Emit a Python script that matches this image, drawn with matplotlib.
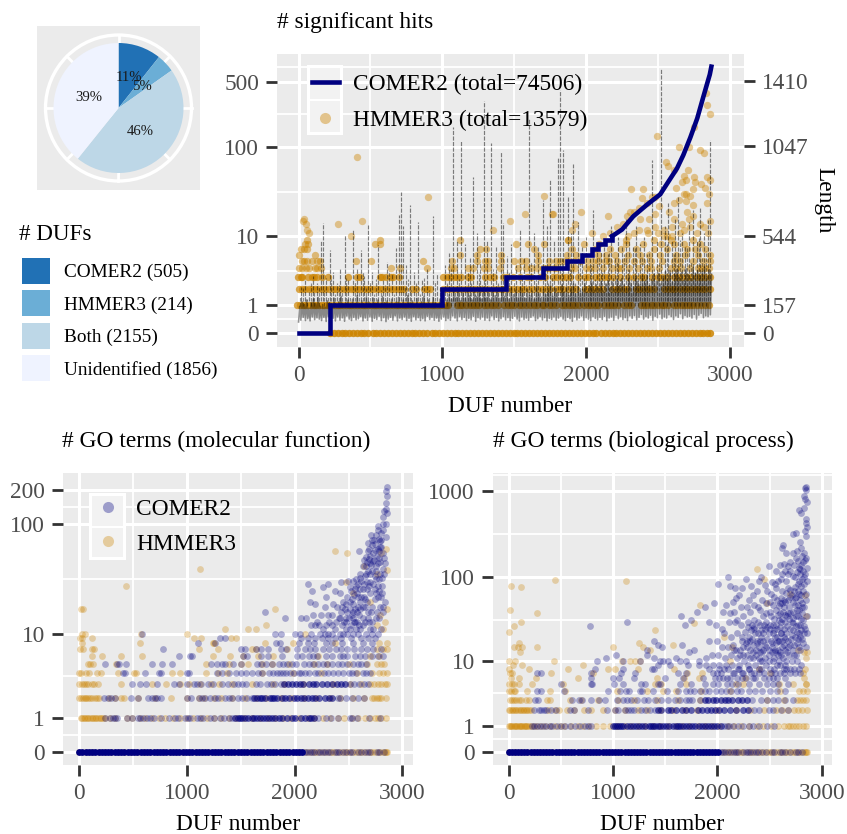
import numpy as np
import matplotlib
matplotlib.use('Agg')
import matplotlib.pyplot as plt
from matplotlib.lines import Line2D
from matplotlib.patches import Circle, Patch, Rectangle
from matplotlib.ticker import NullFormatter

plt.rcParams['font.family'] = ['Liberation Serif', 'DejaVu Serif']
plt.rcParams['path.simplify'] = False

W, H = 847, 834

# pie
duf_labels = ['COMER2 (505)', 'HMMER3 (214)', 'Both (2155)', 'Unidentified (1856)']
duf_counts = [505, 214, 2155, 1856]
duf_colors = ['#2171b5', '#6baed6', '#bdd7e7', '#eff3ff']

# significant hits, COMER2 curve (sorted): integer steps, then the smooth part
comer_step_x = [0, 216, 1000, 1443, 1700, 1867, 1970, 2040, 2085, 2130, 2180]
comer_step_y = [0, 1, 2, 3, 4, 5, 6, 7, 8, 9, 10]
comer_curve_x = [2180, 2250, 2328, 2423, 2515, 2570, 2632, 2676, 2725, 2773, 2815, 2840, 2860, 2871]
comer_curve_y = [10, 12, 17, 23, 30, 41, 58, 81, 126, 203, 345, 470, 600, 730]

# length of every 8th DUF (the solid band)
lengths = [62,150,72,175,88,160,70,185,80,140, 68,170,90,190,75,165,85,200,78,150,
           70,160,88,145,65,180,92,170,74,155, 82,195,68,150,90,175,72,205,85,160,
           66,170,95,185,78,150,70,190,88,165, 74,210,80,155,92,180,68,160,84,200,
           72,175,90,150,66,195,82,165,76,185, 94,155,70,205,86,170,64,180,78,160,
           88,190,72,150,96,175,68,200,84,165, 76,185,90,155,70,210,82,170,66,180,
           92,160,74,195,86,150,70,175,80,205, 68,165,94,185,76,155,88,200,72,170,
           84,150,66,190,78,175,90,160,70,185, 80,215,72,190,96,235,84,200,68,245,
           92,180,76,225,88,195,70,250,82,210, 74,185,94,240,66,205,86,230,78,190,
           90,255,72,200,84,225,70,185,96,245, 76,210,88,235,68,195,80,260,92,205,
           74,230,86,190,70,250,82,215,94,240, 78,200,68,255,90,225,76,195,84,245,
           72,210,88,235,96,190,70,260,80,220, 92,200,74,245,86,215,68,235,82,265,
           76,205,90,250,72,225,84,195,94,270, 78,230,70,255,88,210,80,240,66,275,
           90,220,74,260,84,235,96,245,72,280, 86,230,78,265,70,285,92,240,82,270,
           74,250,88,290,76,235,94,275,68,295, 84,255,90,285,72,245,100,300,80,265,
           92,305,76,270,86,250,70,310,96,280, 82,260,98,315,74,290,88,270,104,320,
           78,285,92,325,84,265,100,300,72,330, 94,290,86,335,106,275,80,320,90,345,
           84,300,102,350,92,285,76,330,96,355, 88,310,108,340,80,295,98,360,90,325,
           94,305,84,365,104,335,78,350,100,320, 110,345,86,370,96,315,92,355,102,330]

# isolated long DUFs poking out of the band
spike_x = [18,46,72,98,125,153,169,190,216,240,265,290,320,345,376,405,432,458,480,512,550,585,613,650,676,
           697,711,725,745,773,800,829,860,895,934,965,1020,1045,1075,1100,1129,1160,1190,1213,
           1240,1265,1289,1310,1336,1370,1408,1421,1450,1480,1510,1540,1570,1603,1640,1665,1700,1725,1749,
           1775,1805,1819,1840,1875,1895,1909,1940,1970,2000,2025,2049,2075,2100,2125,2150,2175,2200,2225,
           2250,2275,2300,2325,2350,2375,2400,2425,2460,2490,2523,2550,2571,2595,2620,2641,2665,2690,2715,
           2745,2770,2794,2820,2850,2860]
spike_len = [260,300,230,320,280,520,616,310,465,340,280,360,549,300,577,360,465,320,605,340,493,300,398,330,476,
             660,790,600,380,717,340,622,300,360,655,330,380,450,1154,520,1075,500,420,874,560,400,
             1299,520,1064,480,1014,616,430,500,380,577,420,1204,560,480,745,600,857,520,986,1361,1025,762,560,
             946,620,480,540,420,689,500,460,520,440,600,420,540,480,640,520,480,600,500,540,440,969,520,1484,
             600,728,520,640,762,560,480,620,689,520,700,560,633,1081]
fuzz_x = [8,32,58,85,110,140,180,205,228,252,278,305,332,360,390,418,445,470,495,525,540,570,600,630,665,740,760,
          785,815,845,875,910,950,985,1005,1035,1060,1090,1115,1145,1175,1200,1228,1252,1275,1300,1325,1350,1385,
          1435,1465,1495,1525,1555,1585,1620,1650,1682,1712,1738,1762,1790,1830,1860,1885,1925,1955,1985,2012,
          2035,2062,2088,2112,2138,2162,2188,2212,2238,2262,2288,2312,2338,2362,2388,2412,2440,2475,2505,2535,
          2560,2582,2608,2630,2652,2678,2702,2730,2758,2782,2808,2835]
fuzz_len = [210,250,190,280,230,260,240,200,300,220,270,240,310,210,290,230,340,250,290,220,300,240,270,350,220,
            260,300,240,280,220,310,240,290,260,230,280,360,260,300,240,340,280,220,330,270,300,240,360,280,
            260,340,290,240,320,270,400,300,260,380,280,320,260,420,300,360,280,400,320,270,
            380,300,420,340,280,460,320,400,300,440,360,300,480,340,420,300,460,360,400,320,
            500,340,440,380,520,360,480,400,340,540,420,460]

# significant hits, HMMER3 rows (x of each DUF at a given hit count)
hits_row0 = [220,248,272,300,322,350,378,404,432,458,486,515,540,568,596,622,650,678,704,732,760,788,
             812,840,868,895,925,948,975,1002,1030,1058,1085,1112,1138,1166,1194,1222,1248,1276,1304,
             1332,1358,1385,1412,1440,1468,1495,1522,1550,1578,1604,1632,1660,1688,1715,1742,1770,
             1798,1826,1852,1880,1908,1935,1962,1990,2018,2046,2072,2100,2128,2156,2184,2210,2238,
             2266,2294,2320,2348,2376,2404,2432,2458,2486,2514,2542,2568,2596,2624,2652,2680,2706,
             2734,2762,2790,2816,2844,2862]
hits_row1 = [-8,12,30,48,66,85,104,122,140,160,178,196,215,235,254,272,290,310,330,348,368,388,405,425,
             445,465,482,502,522,540,560,580,600,618,636,655,675,695,712,732,750,770,790,808,828,848,
             868,885,905,925,945,965,985,1005,1025,1040,1100,1120,1140,1165,1190,1210,1235,1255,1290,
             1310,1335,1360,1385,1430,1455,1480,1500,1530,1555,1585,1610,1640,1660,1690,1710,1740,
             1765,1790,1835,1855,1880,1900,1925,1950,1985,2010,2035,2060,2085,2125,2150,2175,2195,
             2225,2260,2290,2310,2380,2400,2425,2450,2475,2500,2525,2545,2570,2610,2635,2660,2680,
             2700,2725,2745,2770,2800,2830,2855]
hits_row2 = [0,22,45,70,90,115,135,160,185,215,240,262,285,318,340,362,385,408,430,452,475,495,518,545,
             565,590,615,640,665,690,712,735,790,815,870,892,915,1005,1030,1060,1085,1110,1135,1165,
             1185,1210,1235,1265,1290,1315,1355,1380,1405,1430,1465,1490,1520,1545,1570,1605,1630,
             1665,1695,1720,1750,1790,1815,1840,1875,1900,1930,1990,2015,2040,2065,2090,2120,2180,
             2205,2230,2260,2285,2345,2370,2395,2420,2445,2475,2545,2570,2595,2620,2650,2680,2705,
             2730,2755,2780,2805,2830,2860]
hits_row3 = [-2,15,25,65,90,105,125,165,205,345,405,430,565,580,610,640,655,700,1005,1030,1050,1080,1100,
             1130,1175,1200,1300,1330,1360,1420,1450,1490,1540,1590,1620,1680,1715,1770,1800,1830,1860,
             1890,1945,1990,2010,2060,2090,2125,2150,2185,2235,2290,2330,2380,2405,2460,2500,2530,2565,
             2610,2640,2670,2700,2730,2770,2800,2830,2860]
hits_row4 = [5,25,50,75,115,130,155,640,704,890,1060,1080,1175,1215,1290,1320,1400,1525,1580,1615,1660,
             1700,1725,1745,1775,1800,1895,1925,2000,2030,2065,2120,2180,2220,2245,2300,2360,2420,2450,
             2510,2590,2625,2660,2720,2780,2800,2830,2855]
hits_row5 = [25,40,60,95,125,150,397,502,862,1064,1240,1300,1320,1408,1500,1545,1585,1665,1745,1790,
             1820,1850,1880,1915,1960,2005,2050,2085,2130,2160,2215,2270,2330,2390,2450,2530,2610,2650,
             2740,2810,2860]
hits_row6 = [0,113,1122,1240,1408,1666,1870,1930,2080,2135,2200,2290,2375,2440,2515,2625,2690,2780,2860]
hits_row7 = [15,40,60,1261,1303,1636,1905,2060,2165,2240,2350,2470,2560,2700,2760,2830]
hits_row8 = [45,65,534,569,1510,1597,1708,1985,2090,2280,2395,2520,2610,2680,2790]
hits_row9 = [60,565,1122,1877,2280,2470,2590,2740]

# significant hits, HMMER3 points above the rows
hits_hmmer_high = [(407,78),(901,28),(30,15),(40,16),(50,14),(60,12),(75,11),(276,14),(439,15),(367,10),
                   (1354,12),(1471,15),(1578,18),(1708,29),(1766,18),(2492,131),(2643,99),(2713,99),(2817,85),
                   (2794,92),(2860,225),(2840,282),(2835,380),(2752,163),(2558,68),(2569,62),(2706,56),
                   (2608,55),(2678,48),(2666,41),(2697,43),(2752,47),(2759,41),(2798,39),(2829,35),(2840,47),
                   (2860,43),(2311,34),(2395,34),(2627,35),(2678,30),(2695,30),(2743,34),(2725,29),(1773,18),
                   (1965,19),(2151,17),(2306,19),(2283,17),(2330,19),(2423,24),(2458,28),(2481,28),(2388,27),
                   (2481,18),(2434,16),(2376,16),(2643,26),(2608,24),(2573,19),(2510,22),(2695,25),(2743,23),
                   (2840,24),(2855,30),(2699,19),(2745,17),(2713,16),(2666,14),(2608,16),(2597,13),(2678,12),
                   (2794,14),(2817,13),(2860,15),(2562,10),(2539,10),(2481,13),(2427,11),(2365,12),(2330,11),
                   (2289,10),(2213,13),(2167,11),(2120,10),(2040,11),(1923,14),(1900,12),(1877,9),(2420,12),
                   (2540,12),(2655,11),(2720,13),(2770,11),(2845,11),(2500,11),(2600,10),(2255,14),(2370,21)]

# GO molecular function
mf_hmmer_row0 = [0,60,120,180,240,300,360,420,480,540,600,660,720,780,840,900,960,1020,1080,1140,1200,1260,
                 1320,1380,1440,1500,1560,1620,1680,1740,1800,1860,1920,1980,2040,2100,2125,2150,2175,2200,
                 2225,2250,2280,2310,2335,2360,2385,2410,2440,2465,2490,2515,2545,2570,2595,2620,2645,2670,
                 2695,2720,2745,2770,2795,2820,2835,2850,2860]
mf_comer_row0_solid = [0,30,60,90,120,150,180,210,240,270,300,330,360,390,420,450,480,510,540,570,600,630,660,
                       690,720,750,780,810,840,870,900,930,960,990,1020,1050,1080,1110,1140,1170,1200,1230,
                       1260,1290,1320,1350,1380,1410,1440,1470,1500,1530,1560,1590,1620,1650,1680,1710,1740,
                       1770,1800,1830,1860,1890,1920,1950,1980,2010,2040,2070]
mf_comer_row0 = [2095,2115,2140,2160,2180,2215,2235,2260,2285,2310,2330,2370,2390,2415,2450,2475,2510,2530,2590,
                 2615,2650,2680,2700,2760,2785,2830]
mf_hmmer_row1 = [15,30,45,55,70,85,100,115,130,145,160,175,190,205,220,240,285,330,445,490,560,615,680,740,800,
                 870,940,1005,1060,1130,1190,1250,1320,1390,1455,1530,1600,1680,1755,1820,1890,1960,2040,
                 2120,2180,2260,2330,2400,2460,2530,2590,2650,2700,2745,2770,2800,2845]
mf_comer_row1 = [240,285,310,330,350,445,490,545,565,590,625,660,690,760,830,890,915,985,1010,1030,1090,1120,
                 1150,1210,1250,1305,1345,1390,1420,2215,2290,2340,2400,2510,2530,2580,2690,2790]
mf_comer_row1_dense = [1445,1470,1490,1515,1540,1570,1600,1625,1650,1680,1710,1735,1760,1790,1815,1850,1885,1930,
                       1975,2000,2060,2100,2130,2150,2175]
mf_hmmer_row2 = [0,20,35,50,65,80,100,120,145,165,185,280,330,390,420,550,700,855,1005,1110,1160,1255,1320,1420,
                 1540,1640,1730,1870,1970,2090,2200,2330,2420,2540,2640,2720,2740,2760,2780,2800,2850]
mf_comer_row2 = [230,265,300,330,480,545,640,680,705,725,760,1000,1040,1110,1140,1170,1210,1260,1290,1350,1395,
                 1420,1470,1510,1560,1600,2400,2420,2480,2530,2590,2640]
mf_comer_row2_dense = [1620,1650,1680,1700,1725,1770,1790,1810,1840,1880,1910,1950,1990,2020,2060,2090,2120,2160,
                       2190,2230,2280,2320,2350]
mf_hmmer_row3 = [-5,25,45,65,85,115,140,175,390,680,805,935,1020,1125,1220,1300,1420,1600,1800,1905,2080,2360,
                 2510,2620,2700,2735,2770,2800,2835,2860]
mf_comer_row3 = [620,490,560,720,880,930,1005,1065,1090,1130,1200,1240,1330,1380,1440,1475,1510,1550,1640,1675,
                 1740,1780,1820,1870,2510,2550,2600,2640,2680]
mf_comer_row3_dense = [1905,1940,1975,2010,2045,2080,2130,2170,2200,2250,2300,2350,2390,2430,2470]
mf_hmmer_row4 = [0,15,65,90,165,205,360,510,530,860,935,1180,1290,1370,1700,1980,2240,2580,2720,2780,2820,2855]
mf_comer_row4 = [410,425,610,740,760,1000,1020,1275,1330,1390,1460,1505,1550,1600,1660,1700,1760,1800,1840,1865,
                 1890,1920,1960,1990,2040,2060,2100,2130,2190,2220,2270,2310,2360,2400,2450,2500,2530,2570,2630,
                 2660,2700]
mf_hmmer_row5 = [85,105,125,340,1175,1390,1500,1565,1700,1790,1950,2180,2300,2500,2670,2760,2800,2830]
mf_comer_row5 = [240,350,370,430,680,770,860,1220,1280,1330,1350,1430,1500,1650,1690,1730,1790,1850,1890,1925,
                 1975,2010,2090,2130,2170,2220,2260,2300,2350,2400,2440,2490,2540,2590,2620,2660]
mf_hmmer_row6 = [120,210,390,580,1240,1400,1520,1660,1800,2220,2700,2780]
mf_comer_row6 = [930,1030,1050,1520,1560,1690,1750,1880,2020,2070,2130,2170,2210,2290,2350,2420,2450,2490,2560,
                 2610,2650,2720,2775,2820]
mf_hmmer_row7 = [5,35,120,140,1110,1285,1600,1640,1930,2760,2820,2860]
mf_comer_row7 = [780,1500,1540,1640,1690,1750,1870,1920,2020,2100,2140,2190,2260,2320,2380,2430,2490,2550,2620,
                 2670,2730,2800]
mf_hmmer_row8 = [25,560,1255,1240,1720,1985,2370,2780,2860]
mf_comer_row8 = [1099,1265,1830,1860,2040,2120,2180,2290,2350,2440,2540,2630,2720]
mf_hmmer_high = [(20,17),(40,17),(430,28),(1120,40),(30,10),(55,10),(10,9),(30,9),(115,9),(575,10),(1000,10),(1070,9),
                 (1130,9),(1350,11),(1410,9),(1460,9),(1570,11),(1640,11),(1730,12),(1820,17),(2370,57),(2490,55),
                 (2640,42),(2800,55),(2850,60),(2540,24),(2100,10),(2860,17),(2840,13),(2820,11),(2790,15),(2760,12),
                 (2700,20),(2860,39),(2760,36),(2480,30)]
mf_comer_high = [(2860,213),(2849,197),(2858,175),(2849,152),(2849,135),(2833,129),(2860,124),(2818,116),(2818,100),
                 (2772,95),(2756,80),(2710,80),(2802,83),(2849,77),(2596,58),(2679,57),(2741,59),(2787,57),(2833,50),
                 (2787,50),(2694,49),(2710,43),(2756,42),(2818,40),(2664,36),(2741,34),(2787,32),(2602,36),(2540,31),
                 (2494,31),(2432,30),(2309,29),(2262,27),(2370,25),(2417,24),(2525,25),(2633,26),(2694,28),(2741,26),
                 (2586,22),(2478,19),(2540,19),(2633,18),(2741,21),(2818,18),(2355,19),(2278,18),(2185,19),(2139,20),
                 (2062,14),(1907,14),(1722,16),(2432,16),(2540,16),(2633,14),(2710,16),(2787,14),(2478,14),(2386,13),
                 (2309,15),(2247,15),(2170,15),(2108,14),(2509,11),(2478,11),(2633,12),(2725,11),(2370,11),(2309,10),
                 (2231,10),(2046,10),(2000,10),(1877,10),(1815,10),(2586,10),(2448,10),(2540,10),(2060,9),(2120,9),
                 (2185,9),(2255,9),(2310,9),(2370,9),(2430,9),(2525,9),(2620,9),(2680,9),(2745,9),(1305,9),(1352,9),
                 (580,10),(2460,13),(2575,13),(2690,13),(2755,14),(2800,22),(2790,70),(2720,65),(2680,68),(2730,47),
                 (2770,45),(2750,38),(2640,48),(2660,42),(2700,36),(2620,31),(2590,29),(2560,26),(2650,21),(2700,24),
                 (2770,28),(2810,28),(2770,22),(2720,18),(2680,16),(2600,15),(2560,13),(2510,17),(2450,20),(2390,18),
                 (2350,15),(2290,22),(2210,13),(2150,12),(2530,21),(2605,20),(2830,36),(2800,62),(2850,100),(2820,88),
                 (2780,74),(2740,48),(2690,60),(2660,51),(2630,42),(2675,30),(2570,32),(2490,22),(2420,14),(2120,29),
                 (2160,25)]
mf_comer_cloud = [(2520,12),(2550,13),(2500,14),(2580,16),(2610,17),(2650,18),(2670,20),(2620,22),(2560,17),(2530,15),
                  (2480,13),(2440,12),(2410,14),(2350,12),(2320,13),(2290,12),(2260,11),(2225,12),(2190,12),(2150,10),
                  (2570,11),(2600,12),(2650,13),(2680,14),(2720,13),(2760,16),(2790,18),(2820,16),(2840,20),(2810,24),
                  (2780,25),(2750,24),(2730,29),(2700,30),(2670,26),(2640,29),(2610,26),(2580,24),(2550,23),(2510,20),
                  (2470,17),(2440,18),(2510,27),(2570,28),(2610,33),(2650,34),(2680,38),(2720,38),(2750,32),(2790,36),
                  (2810,33),(2840,45),(2820,55),(2790,46),(2760,52),(2725,55),(2695,52),(2670,46),(2720,72),(2745,66),
                  (2770,60),(2790,62),(2800,72),(2770,88),(2740,72),(2700,45),(2640,22),(2590,18),(2540,14),(2490,16),
                  (2610,11),(2660,10),(2700,11),(2770,10),(2800,11),(2720,10),(2490,10),(2420,10),(2350,10),(2280,10)]

# GO biological process
bp_hmmer_row0 = [0,60,120,180,240,300,360,420,480,540,600,660,720,780,840,900,960,1020,1080,1140,1200,1260,1320,
                 1380,1440,1500,1560,1620,1680,1740,1800,1860,1920,1980,2040,2070,2100,2125,2150,2175,2200,2225,
                 2250,2280,2310,2335,2360,2385,2410,2440,2465,2490,2515,2545,2570,2595,2620,2645,2670,2695,2720,
                 2745,2770,2795,2820,2835,2850,2860]
bp_comer_row0_solid = [0,30,60,90,120,150,180,210,240,270,300,330,360,390,420,450,480,510,540,570,600,630,660,690,
                       720,750,780,810,840,870,900,930,960,990,1020,1050,1080,1110,1140,1170,1200,1230,1260,1290,
                       1320,1350,1380,1410,1440,1470,1500,1530,1560,1590,1620,1650,1680,1710,1740,1770,1800,1830,
                       1860,1890,1920,1950,1980,2010]
bp_comer_row0 = [2030,2050,2075,2100,2130,2160,2175,2200,2250,2270,2290,2310,2340,2370,2390,2430,2470,2520,2540,
                 2600,2620,2650,2700,2750,2770,2810]
bp_hmmer_row1 = [0,12,24,36,48,60,72,84,96,108,120,132,144,156,168,180,195,215,240,270,310,350,400,440,490,530,600,
                 660,710,770,840,900,970,1040,1110,1170,1240,1310,1380,1450,1530,1600,1660,1730,1810,1880,1950,2020,
                 2100,2160,2230,2300,2380,2440,2510,2580,2640,2680,2700,2720,2750,2780,2820,2850]
bp_comer_row1 = [220,240,270,300,330,360,395,420,460,505,540,590,635,680,730,760,785,2060,2090,2110,2150,2200,
                 2250,2300,2340,2400,2480,2540]
bp_comer_row1_dense = [1000,1020,1040,1060,1080,1100,1130,1160,1190,1220,1250,1280,1310,1340,1360,1380,1400,1430,
                       1450,1480,1510,1540,1570,1600,1620,1640,1670,1700,1730,1760,1790,1820,1850,1880,1910,1940,
                       1970,2000,2030]
bp_hmmer_row2 = [0,15,30,45,60,75,90,105,120,135,150,165,180,195,210,380,440,480,560,630,720,790,900,1020,1110,
                 1240,1330,1450,1570,1690,1800,2000,2180,2310,2450,2560,2620,2680,2730,2770,2815,2855]
bp_comer_row2 = [240,295,310,340,355,405,450,585,630,760,940,1020,1050,1110,1140,1170,1200,1265,1310,1350,1400,
                 2350,2400,2490,2530,2610,2680]
bp_comer_row2_dense = [1435,1460,1530,1560,1600,1665,1700,1750,1810,1850,1900,1940,1980,2020,2060,2120,2180,2250,2290]
bp_hmmer_row3 = [15,35,55,75,95,115,165,195,370,400,590,690,860,1050,1200,1420,1620,1830,2480,2640,2760,2790,2820,
                 2850]
bp_comer_row3 = [250,280,610,670,700,790,870,920,1040,1100,1130,1170,1225,1300,1335,1400,1460,1530,1590,1640,1695,
                 1730,1760,1830,2330,2420,2480,2530,2580,2650,2720]
bp_comer_row3_dense = [1880,1910,1960,1990,2030,2070,2100,2140,2200,2240,2280]
bp_hmmer_row4 = [5,25,50,65,175,400,540,1040,1330,1480,1600,1840,2120,2600,2780,2820,2860]
bp_comer_row4 = [270,310,530,950,1070,1120,1155,1260,1280,1380,1520,1620,1700,1740,1780,1830,1880,1920,1990,2030,
                 2080,2130,2190,2230,2300,2360,2430,2500,2570,2650]
bp_hmmer_row5 = [5,30,50,100,225,520,1400,1460,1700,2180,2250,2590,2720,2850]
bp_comer_row5 = [500,790,800,1010,1100,1270,1310,1430,1450,1640,1750,1880,1960,2010,2090,2140,2200,2300,2400,2480,
                 2530,2580,2680]
bp_hmmer_row6 = [20,100,260,660,1420,1680,1820,2260,2830]
bp_comer_row6 = [790,1000,1060,1200,1500,1670,1860,1980,2020,2090,2190,2270,2360,2450,2530,2650]
bp_hmmer_row7 = [10,30,410,810,1710,1850,2500,2820]
bp_comer_row7 = [275,310,790,1080,1210,1620,1700,1960,2030,2160,2240,2320,2400,2510,2600,2700,2790]
bp_hmmer_row8 = [0,195,570,955,1020,1240,1580,2400,2840]
bp_comer_row8 = [830,1100,1370,1390,1920,2020,2060,2210,2300,2420,2540,2640,2730]
bp_hmmer_high = [(25,80),(115,77),(440,93),(1120,92),(10,42),(270,38),(115,30),(55,27),(0,23),(55,15),(100,17),
                 (90,15),(130,15),(270,15),(1000,15),(110,13),(0,10),(60,10),(45,9),(130,9),(430,10),(715,9),(1090,10),
                 (1160,10),(1210,10),(1260,10),(1400,24),(1250,17),(1290,15),(1350,14),(1570,16),(1830,48),(1780,29),
                 (2450,95),(2380,125),(2700,65),(2840,62),(2850,35),(2830,13),(2860,13),(2850,11),(2770,14),(2480,50),
                 (2140,15),(2060,20),(2120,10),(2850,5)]
bp_comer_high = [(2850,1090),(2840,1080),(2845,1020),(2825,880),(2835,800),(2855,750),(2830,640),(2780,600),(2800,560),
                 (2850,470),(2850,420),(2860,380),(2840,340),(2725,320),(2750,330),(2850,300),(2790,260),(2625,240),
                 (2620,220),(2660,190),(2720,190),(2760,200),(2800,220),(2830,190),(2850,170),(2700,150),(2730,140),
                 (2780,130),(2840,160),(2860,130),(2820,120),(2600,140),(2640,145),(2680,135),(2490,135),(2560,120),
                 (2620,110),(2700,120),(2740,100),(2780,90),(2810,95),(2840,110),(2860,90),(2550,85),(2610,95),(2660,90),
                 (2420,100),(2270,95),(2100,100),(2010,85),(2120,80),(2170,75),(2240,75),(2320,80),(2380,70),(2480,70),
                 (2510,65),(2560,75),(2620,70),(2680,75),(2730,70),(2780,65),(2820,70),(2850,65),(2750,60),(2700,60),
                 (2640,55),(2600,50),(2540,60),(2470,50),(2430,55),(2390,45),(2300,55),(2180,58),(1970,50),(2050,40),
                 (2160,40),(2230,45),(2310,40),(2350,32),(2440,35),(2500,40),(2560,42),(2630,40),(2690,45),(2740,48),
                 (2790,55),(2830,45),(2860,35),(1750,32),(1130,30),(780,27),(1800,40),(1880,45),(1650,35),(1690,28),
                 (1920,30),(1990,28),(2040,25),(2110,30),(2170,30),(2230,28),(2290,30),(2350,25),(2410,28),(2470,30),
                 (2530,28),(2590,32),(2650,30),(2710,30),(2770,35),(2820,32),(2840,25),(2860,22),(2780,22),(2720,24),
                 (2660,22),(2610,22),(2550,20),(2490,22),(2420,20),(2360,22),(2300,20),(2240,18),(2190,22),(2130,20),
                 (2060,22),(2000,18),(1920,18),(1780,14),(1730,13),(1660,16),(1330,14),(1390,18),(1430,16),(1470,15),
                 (2040,15),(2100,15),(2160,14),(2220,14),(2280,15),(2340,16),(2400,15),(2460,16),(2520,15),(2580,14),
                 (2640,16),(2700,16),(2760,17),(2810,19),(2850,15),(2790,14),(2730,12),(2670,13),(2610,12),(2550,13),
                 (2490,12),(2430,13),(2370,12),(2310,11),(2250,12),(2190,11),(2130,12),(2070,11),(2010,12),(1950,12),
                 (1890,11),(1820,10),(1700,10),(1640,10),(1600,11),(1530,10),(1450,10),(1480,10),(1390,11),(1330,12),
                 (1260,10),(1100,10),(930,11),(1030,12),(2290,9),(2360,9),(2410,10),(2470,9),(2530,10),(2590,10),(2650,9),
                 (2710,10),(2760,10),(2800,9),(2210,9),(2140,9),(2080,9),(2020,9),(1960,9),(1890,9),(1820,9),(1720,9),(1550,9),
                 (1430,9),(850,10)]
bp_comer_cloud = [(2540,11),(2570,9),(2600,13),(2630,11),(2660,10),(2690,12),(2720,14),(2750,12),(2780,15),(2820,17),
                  (2520,13),(2490,10),(2460,11),(2430,10),(2400,11),(2370,14),(2340,13),(2310,14),(2280,12),(2250,15),
                  (2220,12),(2180,14),(2150,16),(2560,17),(2590,18),(2620,15),(2650,19),(2680,18),(2710,21),(2740,20),
                  (2770,19),(2800,24),(2830,22),(2510,18),(2480,19),(2440,18),(2410,18),(2380,18),(2330,19),(2270,17),
                  (2530,22),(2570,25),(2600,26),(2640,25),(2670,27),(2700,25),(2750,27),(2790,28),(2810,38),(2760,42),
                  (2720,40),(2680,38),(2650,36),(2620,33),(2580,36),(2540,33),(2510,35),(2460,25),(2390,30),(2330,28),
                  (2250,35),(2190,32),(2120,38),(2280,45),(2350,48),(2410,42),(2500,52),(2530,48),(2570,55),(2610,58),
                  (2660,66),(2700,72),(2740,78),(2770,85),(2800,80),(2830,85),(2790,110),(2760,115),(2720,105),(2680,110),
                  (2650,118),(2580,92),(2520,88),(2460,82),(2400,92),(2340,62),(2210,62),(2150,52),(2080,48),(2580,18),
                  (2610,30),(2560,28),(2500,25),(2440,22),(2690,33),(2725,34),(2770,28),(2800,33),(2845,55),(2810,45),
                  (2775,48),(2720,52),(2640,45),(2600,38),(2470,38),(2820,150),(2800,140),(2770,155),(2750,170),(2810,175),
                  (2600,9),(2660,8),(2500,8),(2400,8),(2300,8),(2200,8),(2100,8),(2000,7),(2700,8),(2780,8),(2450,7),(2350,7),
                  (2250,7),(2150,7),(2550,7),(2640,7),(2740,7),(2050,6),(2120,6),(2240,6),(2340,6),(2490,6),(2570,6),
                  (2555,14),(2585,12),(2615,18),(2645,14),(2675,15),(2705,19),(2735,16),(2765,23),(2795,20),(2825,27),
                  (2525,17),(2495,14),(2465,15),(2435,14),(2405,13),(2375,17),(2345,11),(2315,18),(2285,18),(2255,10),
                  (2545,24),(2575,20),(2605,22),(2635,20),(2665,35),(2695,38),(2725,29),(2755,35),(2785,42),(2815,50),
                  (2505,28),(2475,26),(2445,28),(2415,24),(2385,22),(2355,26),(2325,24),(2295,26),(2265,23),(2235,20),
                  (2590,46),(2620,50),(2650,52),(2680,55),(2710,62),(2740,58),(2770,70),(2800,62),(2825,100),(2795,125)]

tick_x = [0, 1000, 2000, 3000]
minor_x = [500, 1500, 2500]


def log1p_scale(y):
    return np.log10(1 + np.maximum(y, -0.99))


def log1p_inverse(y):
    return 10 ** y - 1


def px_axes(left, top, right, bottom, **kw):
    return fig.add_axes([left / W, 1 - bottom / H, (right - left) / W, (bottom - top) / H], **kw)


def style_panel(ax, ylim, yticks, yminor):
    ax.set_facecolor('#EBEBEB')
    for s in ax.spines.values():
        s.set_visible(False)
    ax.set_yscale('function', functions=(log1p_scale, log1p_inverse))
    ax.set_xlim(-150, 3098)
    ax.set_ylim(*ylim)
    ax.set_xticks(tick_x)
    ax.set_xticks(minor_x, minor=True)
    ax.set_yticks(yticks)
    ax.set_yticks(yminor, minor=True)
    ax.set_yticklabels([str(t) for t in yticks])
    ax.grid(True, which='major', color='white', lw=2.2)
    ax.grid(True, which='minor', color='white', lw=1.3)
    ax.set_axisbelow(True)
    ax.tick_params(which='major', length=8, width=2, color='#333333', labelcolor='#4D4D4D', labelsize=TXT, pad=5)
    ax.tick_params(which='minor', length=0)
    ax.yaxis.set_minor_formatter(NullFormatter())


def scatter_rows(ax, rows, color, alpha, size=24):
    xs, ys = [], []
    for value, row in rows:
        xs += list(row)
        ys += [value] * len(row)
    ax.scatter(xs, ys, s=size, c=color, alpha=alpha, linewidths=0, zorder=2)


def scatter_pairs(ax, pairs, color, alpha, size=24):
    ax.scatter([p[0] for p in pairs], [p[1] for p in pairs], s=size, c=color, alpha=alpha, linewidths=0, zorder=2)


def key_boxes(ax, left, top, right, bottom):
    # white frame and pale key background behind a legend
    f = fig.transFigure
    ax.add_patch(Rectangle((left / W, 1 - bottom / H), (right - left) / W, (bottom - top) / H, transform=f,
                           fc='white', ec='none', zorder=5, clip_on=False))
    mid = (top + bottom) / 2
    for a, b in [(top + 3, mid - 1), (mid + 1, bottom - 3)]:
        ax.add_patch(Rectangle(((left + 3) / W, 1 - b / H), (right - left - 6) / W, (b - a) / H, transform=f,
                               fc='#F2F2F2', ec='none', zorder=5, clip_on=False))


NAVY = '#000080'
ORANGE = '#CC8400'
TXT = 16.85

fig = plt.figure(figsize=(W / 100, H / 100), dpi=100)

# pie
ax_pie = px_axes(37, 26, 200, 190)
ax_pie.set_facecolor('#EBEBEB')
wedges, _, autotexts = ax_pie.pie(duf_counts, colors=duf_colors, startangle=90, counterclock=False, radius=65,
                                  autopct='%.0f%%', pctdistance=0.49, center=(0, 0), frame=True,
                                  textprops={'fontsize': 10.6, 'color': '#1a1a1a'})
ax_pie.set_aspect('equal')
ax_pie.set_xlim(-81.5, 81.5)
ax_pie.set_ylim(-82, 82)
ax_pie.set_xticks([])
ax_pie.set_yticks([])
for s in ax_pie.spines.values():
    s.set_visible(False)
ax_pie.add_patch(Circle((0, 0), 73, fc='none', ec='white', lw=2.4, zorder=0.5))
for ang in np.deg2rad([0, 45, 90, 135, 180, 225, 270, 315]):
    ax_pie.plot([0, 73 * np.cos(ang)], [0, 73 * np.sin(ang)], color='white', lw=2.0, zorder=0.5)

handles = [Patch(fc=c, ec='none') for c in duf_colors]
fig.text(19 / W, 1 - 234 / H, '# DUFs', fontsize=16.7, va='center')
fig.legend(handles, duf_labels, loc='upper left', bbox_to_anchor=(22 / W, 1 - 258 / H), frameon=False, fontsize=13.9,
           handlelength=1.45, handleheight=1.7, handletextpad=0.74, labelspacing=0.33, borderpad=0, borderaxespad=0)

# significant hits
ax_top = px_axes(277, 54, 744, 347)
style_panel(ax_top, (-0.29, 999), [0, 1, 10, 100, 500], [0.41, 3.7, 32, 224, 730])
scatter_rows(ax_top, [(0, hits_row0)], ORANGE, 0.85, 28)
scatter_rows(ax_top, [(1, hits_row1), (2, hits_row2), (3, hits_row3)], ORANGE, 0.7, 28)
scatter_rows(ax_top, [(4, hits_row4), (5, hits_row5), (6, hits_row6), (7, hits_row7), (8, hits_row8),
                      (9, hits_row9)], ORANGE, 0.5, 28)
scatter_pairs(ax_top, hits_hmmer_high, ORANGE, 0.42, 28)
ax_top.set_xlabel('DUF number', fontsize=TXT, labelpad=7)
ax_top.set_title('# significant hits', loc='left', fontsize=TXT, pad=19)

ax_len = ax_top.twinx()
ax_len.set_ylim(-78, 1562)
ax_len.set_yticks([0, 157, 544, 1047, 1410])
for s in ax_len.spines.values():
    s.set_visible(False)
ax_len.tick_params(which='major', length=8, width=2, color='#333333', labelcolor='#4D4D4D', labelsize=TXT, pad=5)
ax_len.set_ylabel('Length', rotation=270, fontsize=TXT, labelpad=18.5)
ax_len.patch.set_visible(False)
duf_sampled = np.arange(len(lengths)) * 8
ax_len.plot(duf_sampled, lengths, color='black', alpha=0.42, lw=1.15, ls='-', zorder=3)
ax_len.vlines(spike_x, 180, spike_len, color='black', alpha=0.48, lw=0.85, ls=(0, (3.5, 1.2)), zorder=3)
ax_len.vlines(fuzz_x, 150, fuzz_len, color='black', alpha=0.42, lw=0.85, ls=(0, (3, 1.2)), zorder=3)

ax_line = ax_top.twinx()
ax_line.set_yscale('function', functions=(log1p_scale, log1p_inverse))
ax_line.set_ylim(-0.29, 999)
ax_line.axis('off')
ax_line.step(comer_step_x, comer_step_y, where='post', color=NAVY, lw=3.3, solid_joinstyle='miter', zorder=4)
ax_line.plot(comer_curve_x, comer_curve_y, color=NAVY, lw=3.3, zorder=4)
key_boxes(ax_line, 307, 65, 343, 135)
leg = ax_line.legend([Line2D([], [], color=NAVY, lw=3.3),
                      Line2D([], [], color=ORANGE, alpha=0.42, marker='o', ms=8, ls='none', mew=0)],
                     ['COMER2 (total=74506)', 'HMMER3 (total=13579)'], loc='upper left', frameon=False, fontsize=TXT,
                     bbox_to_anchor=(312 / W, 1 - 74 / H), bbox_transform=fig.transFigure, handlelength=1.15,
                     handletextpad=0.6, labelspacing=0.6, borderpad=0, borderaxespad=0)
leg.set_zorder(6)

# GO molecular function
ax_mf = px_axes(63, 473, 413, 765)
style_panel(ax_mf, (-0.23, 282), [0, 1, 10, 100, 200], [0.41, 3.7, 32, 142])
scatter_rows(ax_mf, [(0, mf_hmmer_row0), (1, mf_hmmer_row1), (2, mf_hmmer_row2), (3, mf_hmmer_row3),
                     (4, mf_hmmer_row4), (5, mf_hmmer_row5), (6, mf_hmmer_row6), (7, mf_hmmer_row7),
                     (8, mf_hmmer_row8)], ORANGE, 0.32)
scatter_pairs(ax_mf, mf_hmmer_high, ORANGE, 0.3)
scatter_rows(ax_mf, [(0, mf_comer_row0_solid)], NAVY, 1.0)
scatter_rows(ax_mf, [(1, mf_comer_row1_dense), (2, mf_comer_row2_dense), (3, mf_comer_row3_dense)], NAVY, 0.6)
scatter_rows(ax_mf, [(0, mf_comer_row0), (1, mf_comer_row1), (2, mf_comer_row2), (3, mf_comer_row3), (4, mf_comer_row4),
                     (5, mf_comer_row5), (6, mf_comer_row6), (7, mf_comer_row7), (8, mf_comer_row8)], NAVY, 0.3)
scatter_pairs(ax_mf, mf_comer_high, NAVY, 0.3)
scatter_pairs(ax_mf, mf_comer_cloud, NAVY, 0.3)
ax_mf.set_xlabel('DUF number', fontsize=TXT, labelpad=7)
ax_mf.set_title('# GO terms (molecular function)', loc='left', fontsize=TXT, pad=19, x=-0.003)
key_boxes(ax_mf, 89, 493, 126, 560)
leg = ax_mf.legend([Line2D([], [], color=NAVY, alpha=0.35, marker='o', ms=8, ls='none', mew=0),
                    Line2D([], [], color=ORANGE, alpha=0.35, marker='o', ms=8, ls='none', mew=0)],
                   ['COMER2', 'HMMER3'], loc='upper left', frameon=False, fontsize=TXT,
                   bbox_to_anchor=(94 / W, 1 - 499 / H), bbox_transform=fig.transFigure, handlelength=1.2,
                   handletextpad=0.6, labelspacing=0.55, borderpad=0, borderaxespad=0)
leg.set_zorder(6)

# GO biological process
ax_bp = px_axes(493, 473, 832, 765)
style_panel(ax_bp, (-0.29, 1596), [0, 1, 10, 100, 1000], [0.41, 3.7, 32, 316, 1500])
scatter_rows(ax_bp, [(0, bp_hmmer_row0), (1, bp_hmmer_row1), (2, bp_hmmer_row2), (3, bp_hmmer_row3),
                     (4, bp_hmmer_row4), (5, bp_hmmer_row5), (6, bp_hmmer_row6), (7, bp_hmmer_row7),
                     (8, bp_hmmer_row8)], ORANGE, 0.32)
scatter_pairs(ax_bp, bp_hmmer_high, ORANGE, 0.3)
scatter_rows(ax_bp, [(0, bp_comer_row0_solid)], NAVY, 1.0)
scatter_rows(ax_bp, [(1, bp_comer_row1_dense), (2, bp_comer_row2_dense), (3, bp_comer_row3_dense)], NAVY, 0.6)
scatter_rows(ax_bp, [(0, bp_comer_row0), (1, bp_comer_row1), (2, bp_comer_row2), (3, bp_comer_row3), (4, bp_comer_row4),
                     (5, bp_comer_row5), (6, bp_comer_row6), (7, bp_comer_row7), (8, bp_comer_row8)], NAVY, 0.3)
scatter_pairs(ax_bp, bp_comer_high, NAVY, 0.3)
scatter_pairs(ax_bp, bp_comer_cloud, NAVY, 0.3)
ax_bp.set_xlabel('DUF number', fontsize=TXT, labelpad=7)
ax_bp.set_title('# GO terms (biological process)', loc='left', fontsize=TXT, pad=19)

fig.savefig('out.png', dpi=100)
